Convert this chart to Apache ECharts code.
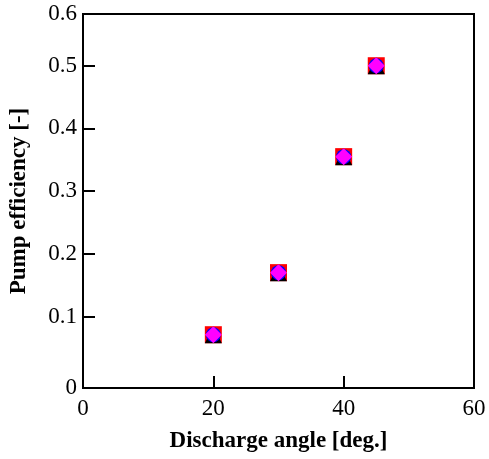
<!DOCTYPE html>
<html>
<head>
<meta charset="utf-8">
<script src="https://cdn.jsdelivr.net/npm/echarts@6/dist/echarts.min.js"></script>
<style>
html,body{margin:0;padding:0;background:#fff;}
#chart{width:489px;height:459px;}
</style>
</head>
<body>
<div id="chart"></div>
<script>
// Data
var angles = [20, 30, 40, 45];
var efficiency = [0.071, 0.170, 0.355, 0.500];

// Axis settings (the reference's y frame runs a little past the 0.1-spaced ticks;
// its end labels read "0" and "0.6")
var xTicks = [0, 20, 40, 60];
var xInnerTicks = [20, 40];
var yMin = -0.014, yMax = 0.5825;
var yTickValues = [0.1, 0.2, 0.3, 0.4, 0.5];
var yLabelValues = [yMin, 0.1, 0.2, 0.3, 0.4, 0.5, yMax];
var yLabelTexts = ['0', '0.1', '0.2', '0.3', '0.4', '0.5', '0.6'];

var pts = angles.map(function (a, i) { return [a, efficiency[i]]; });
var font = 'Liberation Serif';

var chart = echarts.init(document.getElementById('chart'), null, {renderer: 'canvas'});
chart.setOption({
  animation: false,
  backgroundColor: '#fff',
  grid: {left: 82, right: 15, top: 14, bottom: 71, show: true, borderColor: '#000', borderWidth: 2, backgroundColor: 'transparent'},
  xAxis: {
    type: 'value', min: 0, max: 60, interval: 20,
    name: 'Discharge angle [deg.]', nameLocation: 'middle', nameGap: 42,
    nameTextStyle: {fontFamily: font, fontWeight: 'bold', fontSize: 23, color: '#000'},
    axisLine: {show: true, onZero: false, lineStyle: {color: '#000', width: 2}},
    axisTick: {show: true, inside: true, length: 12, lineStyle: {color: '#000', width: 2}, customValues: xInnerTicks},
    axisLabel: {fontFamily: font, fontSize: 23, color: '#000', margin: 9, customValues: xTicks},
    splitLine: {show: false}
  },
  yAxis: {
    type: 'value', min: yMin, max: yMax,
    name: 'Pump efficiency [-]', nameLocation: 'middle', nameGap: 52,
    nameTextStyle: {fontFamily: font, fontWeight: 'bold', fontSize: 23, color: '#000'},
    axisLine: {show: true, onZero: false, lineStyle: {color: '#000', width: 2}},
    axisTick: {show: true, inside: true, length: 12, lineStyle: {color: '#000', width: 2}, customValues: yTickValues},
    axisLabel: {
      fontFamily: font, fontSize: 23, color: '#000', margin: 6,
      customValues: yLabelValues,
      formatter: function (v) {
        var idx = 0, best = 1e9;
        yLabelValues.forEach(function (lv, i) { var d = Math.abs(lv - v); if (d < best) { best = d; idx = i; } });
        return yLabelTexts[idx];
      }
    },
    splitLine: {show: false}
  },
  series: [
    {type: 'scatter', data: pts, symbol: 'rect', symbolSize: 17, itemStyle: {color: '#ff0000', opacity: 1}},
    {type: 'scatter', data: pts, symbol: 'triangle', symbolSize: 17, itemStyle: {color: '#000000', opacity: 1}},
    {type: 'scatter', data: pts, symbol: 'circle', symbolSize: 15, itemStyle: {color: '#0000ff', opacity: 1}},
    {type: 'scatter', data: pts, symbol: 'diamond', symbolSize: 17, itemStyle: {color: '#ff00ff', opacity: 1}}
  ]
});
</script>
</body>
</html>
